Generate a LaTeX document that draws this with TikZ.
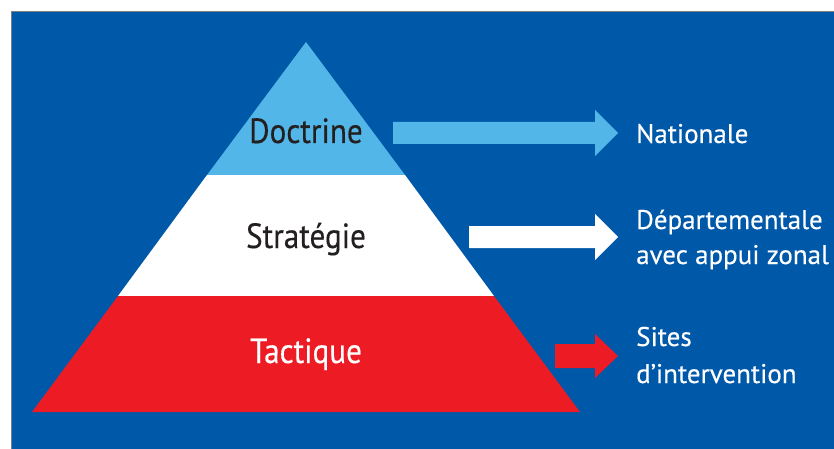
\documentclass[tikz,border=0pt]{standalone}
\usepackage{fontspec}
\newfontfamily\pyrfont[FakeStretch=0.89,FakeBold=0.3]{PT Sans}
\newfontfamily\sidefont[FakeStretch=1.0,FakeBold=0.3]{PT Sans}
\definecolor{bgblue}{RGB}{0,88,169}
\definecolor{lblue}{RGB}{82,182,232}
\definecolor{fred}{RGB}{237,28,36}
\definecolor{dtext}{RGB}{35,31,32}
\tikzset{
  band/.style={draw=none},
  blockarrow/.style={draw=none},
  pyrlabel/.style={anchor=base, font=\pyrfont\fontsize{35}{40}\selectfont, inner sep=0pt},
  sidelabel/.style={anchor=base west, font=\sidefont\fontsize{27}{35}\selectfont, text=white, inner sep=0pt, align=left},
}
\begin{document}
\begin{tikzpicture}[x=1pt,y=-1pt]
\useasboundingbox (0,0) rectangle (834,449);
\fill[white] (0,0) rectangle (834,449);
\fill[bgblue] (11,12) rectangle (834,449);
\draw[gray,line width=1pt] (11,449) -- (11,12) -- (834,12);
% pyramid
\coordinate (apex) at (306,42);
\fill[lblue,band] (apex) -- (405,175) -- (207,175) -- cycle;
\fill[white,band] (207,175) -- (405,175) -- (494,296) -- (118,296) -- cycle;
\fill[fred,band] (118,296) -- (494,296) -- (580,412) -- (32,412) -- cycle;
\node[pyrlabel,text=dtext] (doc) at (306,143) {Doctrine};
\node[pyrlabel,text=dtext] (str) at (306,248) {Stratégie};
\node[pyrlabel,text=white] (tac) at (306,363) {Tactique};
% arrows
\fill[lblue,blockarrow] (393,122) -- (595,122) -- (595,110) -- (618,133) -- (595,156) -- (595,144) -- (393,144) -- cycle;
\fill[white,blockarrow] (469,226) -- (595,226) -- (595,214) -- (618,237) -- (595,260) -- (595,248) -- (469,248) -- cycle;
\fill[fred,blockarrow] (555,344) -- (595,344) -- (595,334) -- (618,356) -- (595,378) -- (595,368) -- (555,368) -- cycle;
% labels
\node[sidelabel] (nat) at (636,143) {Nationale};
\node[sidelabel] (dep) at (636,229) {Départementale};
\node[sidelabel] (app) at (636,264) {avec appui zonal};
\node[sidelabel] (sit) at (636,346) {Sites};
\node[sidelabel] (int) at (636,383) {d’intervention};
\end{tikzpicture}
\end{document}
